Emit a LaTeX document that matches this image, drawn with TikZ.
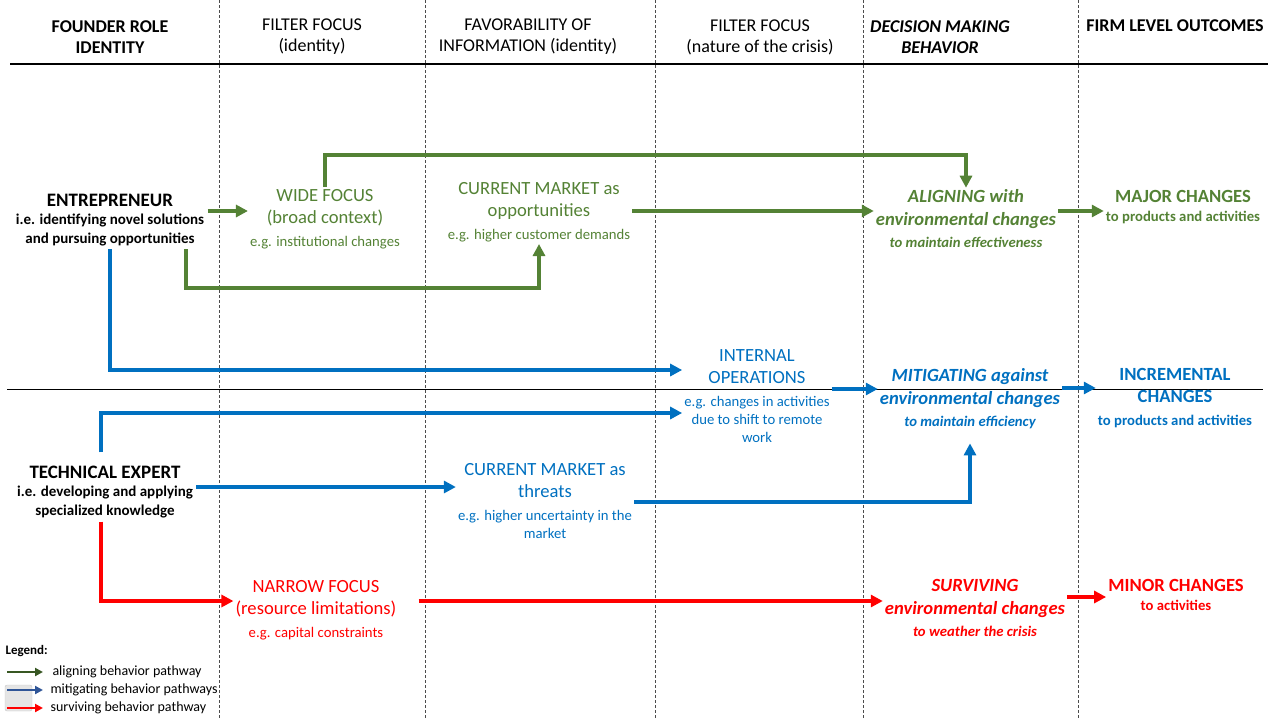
\documentclass[tikz,border=0pt]{standalone}
\usepackage{fontspec}
\setmainfont{Carlito}
\usepackage{xcolor}
\definecolor{pathgreen}{RGB}{84,130,53}
\definecolor{pathblue}{RGB}{0,112,192}
\definecolor{pathred}{RGB}{255,0,0}
\definecolor{legendgreen}{RGB}{56,87,35}
\definecolor{legendblue}{RGB}{47,85,151}
\usetikzlibrary{arrows.meta}
\tikzset{
  colhead/.style={align=center, font=\fontsize{18}{21}\selectfont},
  role/.style={align=center, font=\bfseries\fontsize{15}{18.5}\selectfont},
  focus/.style={align=center, inner sep=2pt, font=\fontsize{18.6}{22.5}\selectfont},
  pathway/.style={line width=3.5pt, -{Triangle[length=12pt,width=12pt]}},
  legarrow/.style={line width=2.5pt, -{Triangle[length=8pt,width=8pt]}},
  legtext/.style={anchor=west, font=\fontsize{14}{16}\selectfont},
}
\newcommand{\rolename}[1]{{\fontsize{19}{21}\selectfont #1}}
\newcommand{\example}[1]{{\fontsize{14.7}{17}\selectfont #1}}

\begin{document}
\begin{tikzpicture}[x=1pt,y=-1pt]
  \useasboundingbox (0,0) rectangle (1279,718);

  % column separators and rules
  \foreach \x in {219,425,655,863,1078}
    \draw [densely dashed, gray!60!black, line width=0.7pt] (\x,0) -- (\x,718);
  \draw [line width=2pt] (10,64) -- (1268,64);
  \draw [line width=0.8pt] (7,389) -- (1263,389);

  % column heads
  \node [colhead, font=\bfseries\fontsize{18}{21}\selectfont] (hrole) at (110,37) {FOUNDER ROLE\\IDENTITY};
  \node [colhead] (hfilter) at (312,37) {FILTER FOCUS\\(identity)};
  \node [colhead] (hfavor) at (528,37) {FAVORABILITY OF\\INFORMATION (identity)};
  \node [colhead] (hcrisis) at (760,37) {FILTER FOCUS\\(nature of the crisis)};
  \node [colhead, font=\bfseries\itshape\fontsize{18}{21}\selectfont] (hdecision) at (940,37) {DECISION MAKING\\BEHAVIOR};
  \node [colhead, font=\bfseries\fontsize{18}{21}\selectfont] (hfirm) at (1175,26) {FIRM LEVEL OUTCOMES};

  % founder roles
  \node [role] (entre) at (110,220) {\rolename{ENTREPRENEUR}\\i.e. identifying novel solutions\\and pursuing opportunities};
  \node [role] (tech) at (105,492) {\rolename{TECHNICAL EXPERT}\\i.e. developing and applying\\specialized knowledge};

  \begin{scope}[every node/.style={focus, text=pathgreen}]
    \node (wide) at (325,219) {WIDE FOCUS\\(broad context)\\\example{e.g. institutional changes}};
    \node (oppmkt) at (539,212) {CURRENT MARKET as\\opportunities\\\example{e.g. higher customer demands}};
    \node [font=\bfseries\itshape\fontsize{18.6}{22.5}\selectfont] (aligning) at (966,219) {ALIGNING with\\environmental changes\\\example{to maintain effectiveness}};
    \node [font=\bfseries\fontsize{18.6}{22.5}\selectfont] (major) at (1183,207) {MAJOR CHANGES\\[-3pt]\example{to products and activities}};
  \end{scope}

  \begin{scope}[every node/.style={focus, text=pathblue}]
    \node (internal) at (757,396) {INTERNAL\\OPERATIONS\\\example{e.g. changes in activities}\\[-4.5pt]\example{due to shift to remote}\\[-4.5pt]\example{work}};
    \node (threat) at (545,501) {CURRENT MARKET as\\threats\\\example{e.g. higher uncertainty in the}\\[-4.5pt]\example{market}};
    \node [font=\bfseries\itshape\fontsize{18.6}{22.5}\selectfont] (mitig) at (970,399) {MITIGATING against\\environmental changes\\\example{to maintain efficiency}};
    \node [font=\bfseries\fontsize{18.6}{22.5}\selectfont] (incr) at (1175,398) {INCREMENTAL\\CHANGES\\\example{to products and activities}};
  \end{scope}

  \begin{scope}[every node/.style={focus, text=pathred}]
    \node (narrow) at (316,610) {NARROW FOCUS\\(resource limitations)\\\example{e.g. capital constraints}};
    \node [font=\bfseries\itshape\fontsize{18.6}{22.5}\selectfont] (surv) at (975,608) {SURVIVING\\environmental changes\\\example{to weather the crisis}};
    \node [font=\bfseries\fontsize{18.6}{22.5}\selectfont] (minor) at (1176,595) {MINOR CHANGES\\[-3pt]\example{to activities}};
  \end{scope}

  % aligning pathways
  \draw [pathway, pathgreen] (entre.east |- 0,211) -- (wide.west |- 0,211);
  \draw [pathway, pathgreen] (wide.north) -- (wide.north |- 0,155) -| (aligning.north);
  \draw [pathway, pathgreen] ([xshift=76pt]entre.south) |- (oppmkt.south |- 0,288) -- (oppmkt.south);
  \draw [pathway, pathgreen] (oppmkt.east |- 0,211) -- (aligning.west |- 0,211);
  \draw [pathway, pathgreen] (aligning.east |- 0,211) -- (major.west |- 0,211);

  % mitigating pathways
  \draw [pathway, pathblue] (entre.south) |- (internal.west |- 0,370);
  \draw [pathway, pathblue, shorten <=10pt] ([xshift=-4pt]tech.north) |- (internal.west |- 0,413);
  \draw [pathway, pathblue] (internal.east |- 0,389) -- (mitig.west |- 0,389);
  \draw [pathway, pathblue] (tech.east |- 0,487) -- (threat.west |- 0,487);
  \draw [pathway, pathblue, shorten >=12pt] (threat.east |- 0,502) -| (mitig.south);
  \draw [pathway, pathblue] (mitig.east |- 0,388) -- (incr.west |- 0,388);

  % surviving pathways
  \draw [pathway, pathred] ([xshift=-4pt]tech.south) |- (narrow.west |- 0,601);
  \draw [pathway, pathred, shorten <=20pt] (narrow.east |- 0,601) -- (surv.west |- 0,601);
  \draw [pathway, pathred] (surv.east |- 0,597) -- (minor.west |- 0,597);

  % legend
  \node [anchor=west, font=\bfseries\fontsize{13}{15}\selectfont] (legend) at (2,651) {Legend:};
  \draw [fill=gray!20, draw=gray!45, rounded corners=2pt] (5,685) rectangle (32,711);
  \node [legtext] (lgalign) at (49,672) {aligning behavior pathway};
  \node [legtext] (lgmitig) at (47,690) {mitigating behavior pathways};
  \node [legtext] (lgsurv) at (47,708) {surviving behavior pathway};
  \coordinate (lgA) at (7,672);
  \coordinate (lgM) at (7,690);
  \coordinate (lgS) at (7,708);
  \draw [legarrow, legendgreen, shorten >=6pt] (lgA) -- (lgalign.west);
  \draw [legarrow, legendblue, shorten >=4pt] (lgM) -- (lgmitig.west);
  \draw [legarrow, pathred, shorten >=4pt] (lgS) -- (lgsurv.west);
\end{tikzpicture}
\end{document}
